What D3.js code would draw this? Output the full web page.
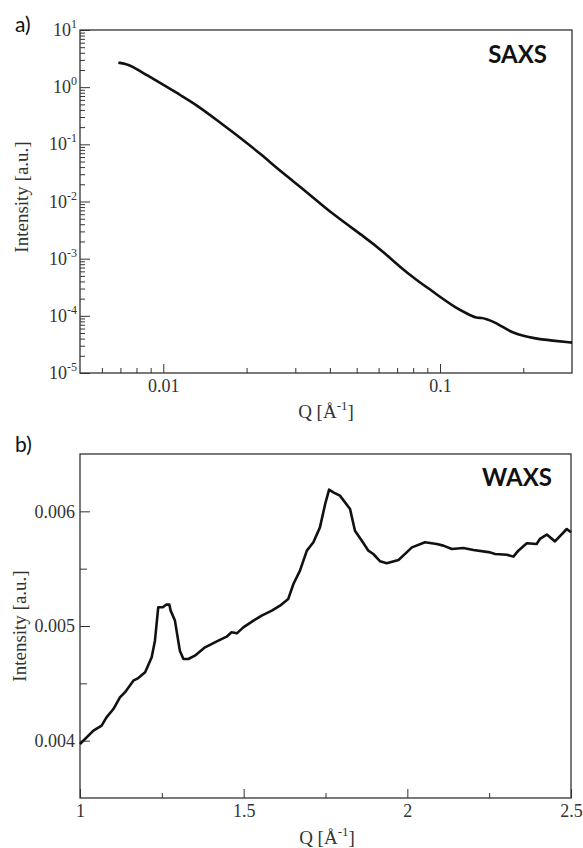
<!DOCTYPE html>
<html><head><meta charset="utf-8">
<script src="https://cdn.jsdelivr.net/npm/d3@7"></script>
<style>body{margin:0;background:#fff}</style>
</head><body>
<svg id="c" width="583" height="848"></svg>
<script>
// ---- SAXS data (Q in 1/Å, Intensity a.u.) ----
const saxsQ = [0.00688,0.0073,0.00769,0.0087,0.01029,0.01149,0.0132,0.0156,0.01841,0.02234,0.0271,0.0329,0.0405,0.0542,0.0623,0.0715,0.0822,0.0944,0.0998,0.1146,0.1246,0.1353,0.1412,0.1471,0.155,0.1643,0.1835,0.2168,0.2559,0.3];
const saxsI = [2.68,2.55,2.34,1.63,1.02,0.73,0.488,0.267,0.1456,0.0697,0.0311,0.0149,0.00622,0.00227,0.001325,0.000724,0.000424,0.000265,0.000216,0.0001355,0.000111,0.0000906,0.000093,0.000088,0.00008,0.000069,0.0000495,0.0000405,0.0000367,0.000034];
const saxsYTicks = [1e-5,1e-4,1e-3,1e-2,1e-1,1e0,1e1];
const saxsYExp = ["-5","-4","-3","-2","-1","0","1"];
const saxsXTicks = [0.01,0.1];
const saxsXTickLabels = ["0.01","0.1"];
const saxsXMinor = [0.006,0.007,0.008,0.009,0.02,0.03,0.04,0.05,0.06,0.07,0.08,0.09,0.2];

// ---- WAXS data ----
const waxsQ = [1.0,1.041,1.066,1.081,1.102,1.122,1.137,1.163,1.178,1.199,1.219,1.229,1.239,1.253,1.263,1.273,1.277,1.29,1.305,1.316,1.331,1.351,1.382,1.418,1.448,1.463,1.479,1.499,1.53,1.555,1.586,1.611,1.636,1.652,1.672,1.693,1.713,1.733,1.749,1.761,1.774,1.794,1.825,1.84,1.861,1.881,1.896,1.917,1.937,1.973,1.998,2.014,2.054,2.09,2.11,2.136,2.171,2.202,2.253,2.268,2.304,2.324,2.339,2.365,2.395,2.405,2.426,2.451,2.487,2.5];
const waxsI = [0.003971,0.004087,0.004131,0.004203,0.004276,0.004378,0.004421,0.004523,0.004546,0.004596,0.004727,0.004872,0.005163,0.005163,0.005186,0.005186,0.005134,0.005047,0.004785,0.004712,0.004712,0.004741,0.004814,0.004866,0.004907,0.004945,0.004936,0.004988,0.005047,0.00509,0.005134,0.005177,0.005235,0.005366,0.005483,0.005657,0.00573,0.00586,0.006064,0.006189,0.006166,0.006137,0.00602,0.005831,0.005744,0.005657,0.005628,0.005564,0.005547,0.005576,0.005642,0.005686,0.00573,0.005715,0.005701,0.005672,0.00568,0.005663,0.005642,0.005628,0.005622,0.005605,0.005657,0.005721,0.005715,0.005759,0.005797,0.005738,0.005846,0.005817];
const waxsYTicks = [0.004,0.005,0.006];
const waxsYTickLabels = ["0.004","0.005","0.006"];
const waxsYMinor = [0.0045,0.0055];
const waxsXTicks = [1,1.5,2,2.5];
const waxsXTickLabels = ["1","1.5","2","2.5"];
const waxsXMinor = [1.25,1.75,2.25];

const svg = d3.select("#c");
const serif = "'Liberation Serif','Times New Roman',serif";
const sans = "Lato,'Open Sans',sans-serif";
const axisColor = "#333";
const tickFont = 18, titleFont = 19;

// ---------- Panel a: SAXS ----------
const A = {l:80, r:572, t:30, b:373};
const xA = d3.scaleLog().domain([0.005,0.3]).range([A.l,A.r]);
const yA = d3.scaleLog().domain([1e-5,1e1]).range([A.b,A.t]);

svg.append("rect").attr("x",A.l).attr("y",A.t).attr("width",A.r-A.l).attr("height",A.b-A.t)
  .attr("fill","none").attr("stroke",axisColor).attr("stroke-width",1.3);

const yMinorA = [];
for (let e=-5;e<1;e++) for (let m=2;m<=9;m++) yMinorA.push(m*Math.pow(10,e));
const gA = svg.append("g");
gA.append("g").attr("transform",`translate(${A.l},0)`)
  .call(d3.axisLeft(yA).tickValues(yMinorA).tickSize(-5).tickFormat(""))
  .call(g=>{g.select(".domain").remove(); g.selectAll("line").attr("stroke",axisColor);});
gA.append("g").attr("transform",`translate(${A.l},0)`)
  .call(d3.axisLeft(yA).tickValues(saxsYTicks).tickSize(-10).tickFormat(""))
  .call(g=>{g.select(".domain").remove(); g.selectAll("line").attr("stroke",axisColor);});
saxsYTicks.forEach((v,i)=>{
  const t = svg.append("text").attr("x",A.l-3).attr("y",yA(v)+6)
    .attr("text-anchor","end").attr("font-family",serif).attr("font-size",tickFont).attr("fill","#333");
  t.append("tspan").text("10");
  t.append("tspan").attr("font-size",12).attr("dy",-8).text(saxsYExp[i]);
});
gA.append("g").attr("transform",`translate(0,${A.b})`)
  .call(d3.axisBottom(xA).tickValues(saxsXMinor).tickSize(-5).tickFormat(""))
  .call(g=>{g.select(".domain").remove(); g.selectAll("line").attr("stroke",axisColor);});
gA.append("g").attr("transform",`translate(0,${A.b})`)
  .call(d3.axisBottom(xA).tickValues(saxsXTicks).tickSize(-9).tickPadding(6).tickFormat((d,i)=>saxsXTickLabels[i]))
  .call(g=>{g.select(".domain").remove(); g.selectAll("line").attr("stroke",axisColor);
    g.selectAll("text").attr("font-family",serif).attr("font-size",tickFont).attr("fill","#333");});

const lineA = d3.line().x((d,i)=>xA(saxsQ[i])).y((d,i)=>yA(saxsI[i])).curve(d3.curveBasis);
svg.append("path").datum(saxsQ).attr("d",lineA).attr("fill","none").attr("stroke","#111").attr("stroke-width",2.6);

svg.append("text").attr("x",326).attr("y",418).attr("text-anchor","middle")
  .attr("font-family",serif).attr("font-size",titleFont).attr("fill","#333")
  .call(t=>{t.append("tspan").text("Q [Å"); t.append("tspan").attr("font-size",13).attr("dy",-8).text("-1"); t.append("tspan").attr("dy",8).text("]");});
svg.append("text").attr("transform","translate(28,197) rotate(-90)").attr("text-anchor","middle")
  .attr("font-family",serif).attr("font-size",titleFont).attr("fill","#333").text("Intensity [a.u.]");
svg.append("text").attr("x",15).attr("y",32).attr("font-family",sans).attr("font-size",21).attr("fill","#111").text("a)");
svg.append("text").attr("x",547).attr("y",63).attr("text-anchor","end").attr("font-family",sans)
  .attr("font-weight","bold").attr("font-size",24).attr("fill","#111").text("SAXS");

// ---------- Panel b: WAXS ----------
const B = {l:80, r:571, t:454, b:798};
const xB = d3.scaleLinear().domain([1,2.5]).range([B.l,B.r]);
const yB = d3.scaleLinear().domain([0.0035,0.0065]).range([B.b,B.t]);

svg.append("rect").attr("x",B.l).attr("y",B.t).attr("width",B.r-B.l).attr("height",B.b-B.t)
  .attr("fill","none").attr("stroke",axisColor).attr("stroke-width",1.3);

const gB = svg.append("g");
gB.append("g").attr("transform",`translate(${B.l},0)`)
  .call(d3.axisLeft(yB).tickValues(waxsYMinor).tickSize(-7).tickFormat(""))
  .call(g=>{g.select(".domain").remove(); g.selectAll("line").attr("stroke",axisColor);});
gB.append("g").attr("transform",`translate(${B.l},0)`)
  .call(d3.axisLeft(yB).tickValues(waxsYTicks).tickSize(-10).tickPadding(5).tickFormat((d,i)=>waxsYTickLabels[i]))
  .call(g=>{g.select(".domain").remove(); g.selectAll("line").attr("stroke",axisColor);
    g.selectAll("text").attr("font-family",serif).attr("font-size",tickFont).attr("fill","#333");});
gB.append("g").attr("transform",`translate(0,${B.b})`)
  .call(d3.axisBottom(xB).tickValues(waxsXMinor).tickSize(-5).tickFormat(""))
  .call(g=>{g.select(".domain").remove(); g.selectAll("line").attr("stroke",axisColor);});
gB.append("g").attr("transform",`translate(0,${B.b})`)
  .call(d3.axisBottom(xB).tickValues(waxsXTicks).tickSize(-9).tickPadding(6).tickFormat((d,i)=>waxsXTickLabels[i]))
  .call(g=>{g.select(".domain").remove(); g.selectAll("line").attr("stroke",axisColor);
    g.selectAll("text").attr("font-family",serif).attr("font-size",tickFont).attr("fill","#333");});

const lineB = d3.line().x((d,i)=>xB(waxsQ[i])).y((d,i)=>yB(waxsI[i]));
svg.append("path").datum(waxsQ).attr("d",lineB).attr("fill","none").attr("stroke","#111")
  .attr("stroke-width",2.6).attr("stroke-linejoin","round");

svg.append("text").attr("x",327).attr("y",844).attr("text-anchor","middle")
  .attr("font-family",serif).attr("font-size",titleFont).attr("fill","#333")
  .call(t=>{t.append("tspan").text("Q [Å"); t.append("tspan").attr("font-size",13).attr("dy",-8).text("-1"); t.append("tspan").attr("dy",8).text("]");});
svg.append("text").attr("transform","translate(26,626) rotate(-90)").attr("text-anchor","middle")
  .attr("font-family",serif).attr("font-size",titleFont).attr("fill","#333").text("Intensity [a.u.]");
svg.append("text").attr("x",15).attr("y",452).attr("font-family",sans).attr("font-size",21).attr("fill","#111").text("b)");
svg.append("text").attr("x",552).attr("y",486).attr("text-anchor","end").attr("font-family",sans)
  .attr("font-weight","bold").attr("font-size",24).attr("fill","#111").text("WAXS");
</script>
</body></html>
